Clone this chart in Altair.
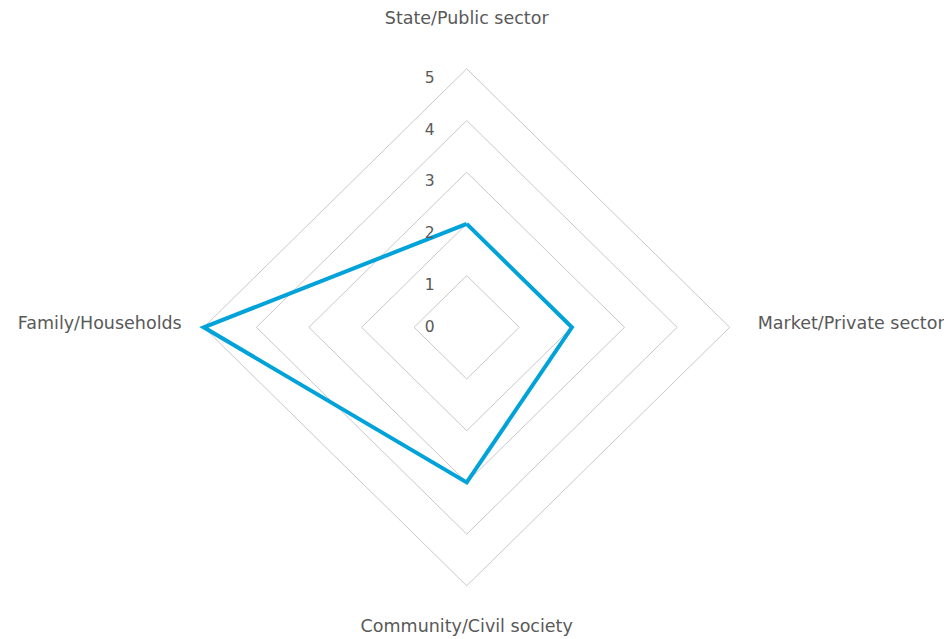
import math
import altair as alt
import pandas as pd

categories = ["State/Public sector", "Market/Private sector",
              "Community/Civil society", "Family/Households"]
values = [2, 2, 3, 5]
tick_values = [0, 1, 2, 3, 4, 5]
grid_levels = [1, 2, 3, 4, 5]

LINE_COLOR = "#00a3d9"
GRID_COLOR = "#c8c8c8"
TEXT_COLOR = "#595959"
FONT = "DejaVu Sans"

n = len(categories)

def pos(i, r):
    a = 2 * math.pi * (i % n) / n
    return r * math.sin(a), r * math.cos(a)

# series polygon (closed)
series_rows = []
for k in range(n + 1):
    x, y = pos(k, values[k % n])
    series_rows.append({"order": k, "x": x, "y": y})
series_df = pd.DataFrame(series_rows)

# grid polygons
grid_rows = []
for lv in grid_levels:
    for k in range(n + 1):
        x, y = pos(k, lv)
        grid_rows.append({"level": lv, "order": k, "x": x, "y": y})
grid_df = pd.DataFrame(grid_rows)

# tick labels along the top axis
tick_df = pd.DataFrame({"t": tick_values, "x": [0.0] * len(tick_values),
                        "y": [float(t) for t in tick_values]})

xs = alt.Scale(domain=[-8.721, 9.074], nice=False, zero=False)
ys = alt.Scale(domain=[-5.816, 6.176], nice=False, zero=False)
X = lambda: alt.X("x:Q", scale=xs, axis=None)
Y = lambda: alt.Y("y:Q", scale=ys, axis=None)

grid = alt.Chart(grid_df).mark_line(color=GRID_COLOR, strokeWidth=1).encode(
    x=X(), y=Y(), detail="level:N", order="order:Q")

series = alt.Chart(series_df).mark_line(
    color=LINE_COLOR, strokeWidth=4, strokeJoin="miter").encode(
    x=X(), y=Y(), order="order:Q")

ticks_main = alt.Chart(tick_df).transform_filter("datum.t > 0").mark_text(
    align="right", baseline="middle", dx=-32, dy=9, font=FONT, fontSize=15.5,
    color=TEXT_COLOR).encode(x=X(), y=Y(), text="t:Q")
ticks_zero = alt.Chart(tick_df).transform_filter("datum.t == 0").mark_text(
    align="right", baseline="middle", dx=-32, dy=0, font=FONT, fontSize=15.5,
    color=TEXT_COLOR).encode(x=X(), y=Y(), text="t:Q")

label_style = [
    dict(align="center", baseline="middle", dx=0, dy=-50),
    dict(align="left", baseline="middle", dx=28, dy=-3),
    dict(align="center", baseline="middle", dx=0, dy=41),
    dict(align="right", baseline="middle", dx=-22, dy=-3),
]
label_layers = []
for i, cat in enumerate(categories):
    x, y = pos(i, max(tick_values))
    df = pd.DataFrame({"label": [cat], "x": [x], "y": [y]})
    label_layers.append(
        alt.Chart(df).mark_text(font=FONT, fontSize=17.5, color=TEXT_COLOR,
                                **label_style[i]).encode(x=X(), y=Y(), text="label:N"))

chart = alt.layer(grid, series, ticks_main, ticks_zero, *label_layers).properties(
    width=936, height=620,
    background="white",
    autosize=alt.AutoSizeParams(type="none"),
    padding={"left": 0, "top": 0, "right": 0, "bottom": 8},
).configure_view(stroke=None, strokeWidth=0)

chart.save("out.html", embed_options={"renderer": "svg", "actions": False})
